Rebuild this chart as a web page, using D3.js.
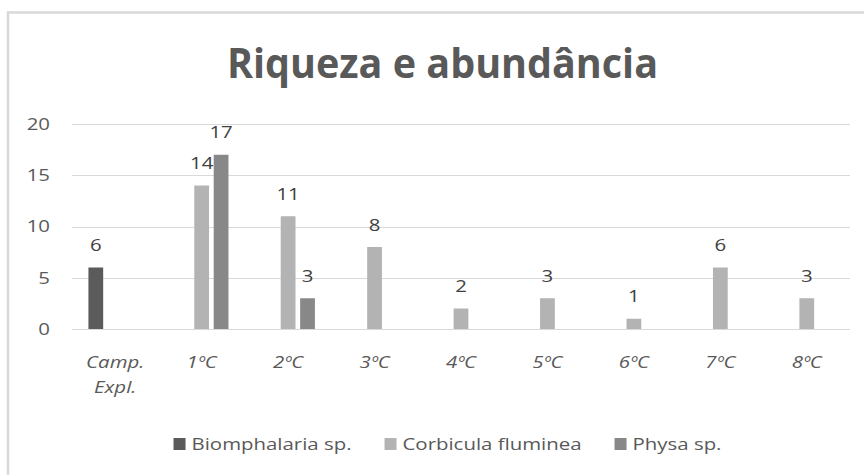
<!DOCTYPE html>
<html>
<head>
<meta charset="utf-8">
<script src="https://cdn.jsdelivr.net/npm/d3@7"></script>
<style>
  html, body { margin: 0; padding: 0; background: #fff; }
  svg { display: block; }
  text { font-family: "Open Sans", "Liberation Sans", sans-serif; }
</style>
</head>
<body>
<svg id="chart" width="864" height="475"></svg>
<script>
// Sampling campaigns
const categories = ["Camp. Expl.", "1ºC", "2ºC", "3ºC", "4ºC", "5ºC", "6ºC", "7ºC", "8ºC"];
// Species (series)
const seriesNames = ["Biomphalaria sp.", "Corbicula fluminea", "Physa sp."];
// Individuals counted per campaign (null = none recorded)
const biomphalaria = [6, null, null, null, null, null, null, null, null];
const corbicula = [null, 14, 11, 8, 2, 3, 1, 6, 3];
const physa = [null, 17, 3, null, null, null, null, null, null];
const yTicks = [0, 5, 10, 15, 20];
const colors = ["#5b5b5b", "#b3b3b3", "#888888"];

const seriesValues = [biomphalaria, corbicula, physa];

// widen small text horizontally (wide-set label font)
const STRETCH = 1.2;
function stretch(sel) {
  sel.each(function() {
    const w = this.getComputedTextLength();
    d3.select(this).attr("textLength", w * STRETCH).attr("lengthAdjust", "spacingAndGlyphs");
  });
}

const svg = d3.select("#chart");

// chart frame
svg.append("rect")
  .attr("x", 8).attr("y", 12.5)
  .attr("width", 869).attr("height", 480)
  .attr("fill", "#fff")
  .attr("stroke", "#d9d9d9").attr("stroke-width", 2.5);

// title
svg.append("text")
  .attr("x", 442.5).attr("y", 78)
  .attr("text-anchor", "middle")
  .attr("font-size", 42).attr("font-weight", 700)
  .attr("fill", "#595959")
  .attr("textLength", 431).attr("lengthAdjust", "spacingAndGlyphs")
  .text("Riqueza e abundância");

const plotLeft = 72, plotRight = 850;
const y = d3.scaleLinear().domain([0, 20]).range([329, 124]);
const x0 = d3.scaleBand().domain(categories).range([plotLeft, plotRight])
  .paddingInner(0.38).paddingOuter(0.19);
const x1 = d3.scaleBand().domain(seriesNames).range([0, x0.bandwidth()])
  .paddingInner(0.24);

// gridlines
svg.append("g")
  .selectAll("line")
  .data(yTicks)
  .join("line")
  .attr("x1", plotLeft).attr("x2", plotRight)
  .attr("y1", d => Math.round(y(d)) + 0.5).attr("y2", d => Math.round(y(d)) + 0.5)
  .attr("stroke", "#d9d9d9").attr("stroke-width", 1.2);

// y axis labels
const yAxis = d3.axisLeft(y).tickValues(yTicks).tickSize(0).tickPadding(0);
const yg = svg.append("g").attr("transform", "translate(50,0)").call(yAxis);
yg.select(".domain").remove();
yg.selectAll("text")
  .attr("font-size", 17).attr("fill", "#595959")
  .attr("font-family", "'Open Sans', sans-serif")
  .call(stretch);

// x axis labels (wrapped, italic)
const xAxis = d3.axisBottom(x0).tickSize(0).tickFormat("");
const xg = svg.append("g").attr("transform", "translate(0,329)").call(xAxis);
xg.select(".domain").remove();
xg.selectAll(".tick").each(function(d) {
  const words = d.split(" ");
  const g = d3.select(this);
  words.forEach((w, i) => {
    g.append("text")
      .attr("x", 0).attr("y", 39 + i * 25)
      .attr("text-anchor", "middle")
      .attr("font-size", 17).attr("font-style", "italic")
      .attr("fill", "#595959")
      .text(w);
  });
});
xg.selectAll(".tick text").call(stretch);

// bars + value labels
const rows = [];
seriesValues.forEach((vals, si) => {
  vals.forEach((v, ci) => {
    if (v != null) rows.push({ series: seriesNames[si], si, cat: categories[ci], v });
  });
});

svg.append("g")
  .selectAll("rect")
  .data(rows)
  .join("rect")
  .attr("x", d => x0(d.cat) + x1(d.series))
  .attr("y", d => y(d.v))
  .attr("width", x1.bandwidth())
  .attr("height", d => y(0) - y(d.v))
  .attr("fill", d => colors[d.si]);

svg.append("g")
  .selectAll("text")
  .data(rows)
  .join("text")
  .attr("x", d => x0(d.cat) + x1(d.series) + x1.bandwidth() / 2)
  .attr("y", d => y(d.v) - 16.5)
  .attr("text-anchor", "middle")
  .attr("font-size", 17).attr("fill", "#404040")
  .text(d => d.v)
  .call(stretch);

// legend
const legend = svg.append("g").attr("transform", "translate(0,444)");
const items = legend.selectAll("g")
  .data(seriesNames)
  .join("g");
items.append("rect")
  .attr("x", 0).attr("y", -6)
  .attr("width", 12).attr("height", 12)
  .attr("fill", (d, i) => colors[i]);
items.append("text")
  .attr("x", 18).attr("dy", "0.35em")
  .attr("font-size", 17).attr("fill", "#595959")
  .text(d => d)
  .call(stretch);
const widths = [];
items.each(function() {
  const t = d3.select(this).select("text");
  widths.push(18 + +t.attr("textLength"));
});
const gap = 33;
const total = d3.sum(widths) + gap * (widths.length - 1);
let cursor = 447.5 - total / 2;
items.each(function(d, i) {
  d3.select(this).attr("transform", `translate(${cursor},0)`);
  cursor += widths[i] + gap;
});
</script>
</body>
</html>
